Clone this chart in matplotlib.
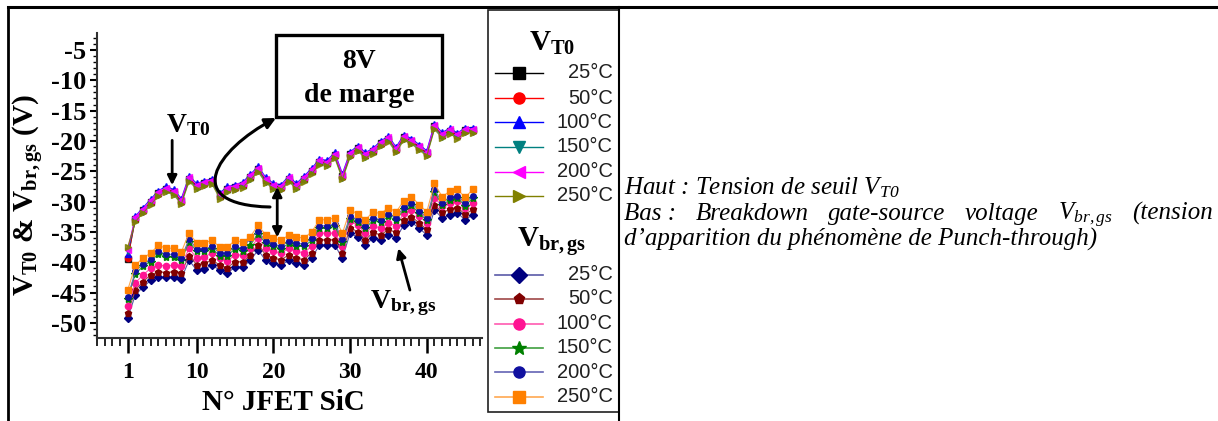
import numpy as np
import matplotlib
matplotlib.use('Agg')
import matplotlib.pyplot as plt
from matplotlib.lines import Line2D
from matplotlib.patches import Rectangle, FancyArrowPatch
from matplotlib.path import Path

plt.rcParams['font.family'] = ['Liberation Serif', 'DejaVu Serif']
plt.rcParams['mathtext.fontset'] = 'custom'
plt.rcParams['mathtext.rm'] = 'Liberation Serif:italic'
plt.rcParams['mathtext.bf'] = 'Liberation Serif:bold'
plt.rcParams['mathtext.it'] = 'Liberation Serif:italic'

# ---- data ----
jfet = np.arange(1, 47)
temps = ['25°C', '50°C', '100°C', '150°C', '200°C', '250°C']

# threshold voltage V_T0
vt0_25 = [-39.5,-32.8,-31.4,-30.0,-28.6,-27.9,-28.4,-29.9,-26.2,-27.4,-27.0,-26.6,-29.0,-27.9,-27.6,-27.2,-25.9,-24.6,-26.4,-27.4,-27.6,-26.2,-27.4,-26.2,-24.9,-23.4,-23.6,-22.3,-25.8,-22.2,-21.2,-22.3,-21.6,-20.4,-19.6,-21.4,-19.4,-20.0,-21.0,-22.0,-17.6,-19.0,-18.3,-19.1,-18.2,-18.2]
vt0_50 = [-39.3,-32.9,-31.5,-30.1,-28.7,-28.0,-28.5,-30.0,-26.3,-27.5,-27.1,-26.7,-29.1,-28.0,-27.7,-27.3,-26.0,-24.7,-26.5,-27.5,-27.7,-26.3,-27.5,-26.3,-25.0,-23.5,-23.7,-22.4,-25.9,-22.3,-21.3,-22.4,-21.7,-20.5,-19.7,-21.5,-19.5,-20.1,-21.1,-22.1,-17.7,-19.1,-18.4,-19.2,-18.3,-18.3]
vt0_100 = [-38.6,-32.4,-31.0,-29.6,-28.2,-27.5,-28.0,-29.5,-25.8,-27.0,-26.6,-26.2,-28.6,-27.5,-27.2,-26.8,-25.5,-24.2,-26.0,-27.0,-27.2,-25.8,-27.0,-25.8,-24.5,-23.0,-23.2,-21.9,-25.4,-21.8,-20.8,-21.9,-21.2,-20.0,-19.2,-21.0,-19.0,-19.6,-20.6,-21.6,-17.2,-18.6,-17.9,-18.7,-17.8,-17.8]
vt0_150 = [-38.2,-33.1,-31.7,-30.3,-28.9,-28.2,-28.7,-30.2,-26.5,-27.7,-27.3,-26.9,-29.3,-28.2,-27.9,-27.5,-26.2,-24.9,-26.7,-27.7,-27.9,-26.5,-27.7,-26.5,-25.2,-23.7,-23.9,-22.6,-26.1,-22.5,-21.5,-22.6,-21.9,-20.7,-19.9,-21.7,-19.7,-20.3,-21.3,-22.3,-17.9,-19.3,-18.6,-19.4,-18.5,-18.5]
vt0_200 = [-38.0,-32.5,-31.2,-29.8,-28.4,-27.7,-28.2,-29.7,-26.0,-27.2,-26.8,-26.4,-28.8,-27.7,-27.4,-27.0,-25.7,-24.4,-26.2,-27.2,-27.4,-26.0,-27.2,-26.0,-24.7,-23.2,-23.4,-22.1,-25.6,-22.0,-21.0,-22.1,-21.4,-20.2,-19.4,-21.2,-19.2,-19.8,-20.8,-21.8,-17.4,-18.8,-18.1,-18.9,-18.0,-18.0]
vt0_250 = [-37.5,-33.3,-31.9,-30.5,-29.1,-28.4,-28.9,-30.4,-26.7,-27.9,-27.5,-27.1,-29.5,-28.4,-28.1,-27.7,-26.4,-25.1,-26.9,-27.9,-28.1,-26.7,-27.9,-26.7,-25.4,-23.9,-24.1,-22.8,-26.3,-22.7,-21.7,-22.8,-22.1,-20.9,-20.1,-21.9,-19.9,-20.5,-21.5,-22.5,-18.1,-19.5,-18.8,-19.6,-18.7,-18.7]

# gate-source breakdown voltage V_br,gs
vbr_25 = [-49.2,-45.4,-44.1,-43.0,-42.5,-42.5,-42.5,-42.7,-39.7,-41.3,-41.1,-40.5,-41.3,-41.8,-40.8,-40.8,-39.7,-38.0,-39.7,-40.2,-40.5,-39.7,-40.2,-40.5,-39.3,-37.2,-37.2,-37.2,-39.3,-35.2,-35.9,-37.2,-36.0,-36.4,-35.5,-36.0,-33.9,-33.4,-34.4,-35.5,-31.4,-32.7,-32.2,-31.9,-33.0,-32.2]
vbr_50 = [-48.4,-44.6,-43.2,-42.1,-41.6,-41.7,-41.6,-41.8,-38.9,-40.4,-40.2,-39.6,-40.5,-40.9,-39.9,-40.0,-38.8,-37.1,-38.8,-39.3,-39.6,-38.8,-39.3,-39.6,-38.4,-36.3,-36.4,-36.3,-38.4,-34.3,-35.0,-36.3,-35.1,-35.5,-34.6,-35.1,-33.0,-32.5,-33.5,-34.6,-30.5,-31.8,-31.3,-31.0,-32.1,-31.3]
vbr_100 = [-47.2,-43.4,-42.1,-41.0,-40.5,-40.6,-40.5,-40.7,-37.7,-39.3,-39.1,-38.5,-39.3,-39.8,-38.8,-38.8,-37.7,-36.0,-37.7,-38.2,-38.5,-37.7,-38.2,-38.5,-37.3,-35.2,-35.2,-35.2,-37.3,-33.2,-33.9,-35.2,-34.0,-34.4,-33.5,-34.0,-31.9,-31.4,-32.4,-33.5,-29.4,-30.7,-30.2,-29.9,-31.0,-30.2]
vbr_150 = [-46.0,-41.9,-40.7,-39.9,-38.6,-39.1,-39.1,-39.7,-36.6,-38.2,-38.2,-37.8,-38.9,-38.9,-37.8,-38.1,-37.2,-35.3,-36.9,-37.4,-37.8,-36.9,-37.3,-37.4,-36.4,-34.4,-34.4,-34.1,-36.6,-32.8,-33.4,-34.4,-33.1,-33.4,-32.4,-33.1,-31.3,-30.6,-31.9,-33.1,-28.4,-30.6,-29.7,-29.4,-30.7,-29.4]
vbr_200 = [-45.8,-41.5,-40.3,-39.5,-38.2,-38.7,-38.7,-39.3,-36.2,-37.8,-37.8,-37.4,-38.5,-38.5,-37.4,-37.7,-36.0,-34.9,-36.5,-37.0,-37.4,-36.5,-36.9,-37.0,-36.0,-34.0,-34.0,-33.7,-36.2,-32.4,-33.0,-34.0,-32.7,-33.0,-32.0,-32.7,-30.9,-30.2,-31.5,-32.7,-28.0,-30.2,-29.3,-29.0,-30.3,-29.0]
vbr_250 = [-44.6,-40.5,-39.3,-38.5,-37.2,-37.7,-37.7,-38.3,-35.2,-36.8,-36.8,-36.4,-37.5,-37.5,-36.4,-36.7,-35.8,-33.9,-35.5,-36.0,-36.4,-35.5,-35.9,-36.0,-35.0,-33.0,-33.0,-32.7,-35.2,-31.4,-32.0,-33.0,-31.7,-32.0,-31.0,-31.7,-29.9,-29.2,-30.5,-31.7,-27.0,-29.2,-28.3,-28.0,-29.3,-28.0]

y_ticks = [-5, -10, -15, -20, -25, -30, -35, -40, -45, -50]
y_ticklabels = ['-5', '-10', '-15', '-20', '-25', '-30', '-35', '-40', '-45', '-50']
x_ticks = [1, 10, 20, 30, 40]

vt0_series = [vt0_25, vt0_50, vt0_100, vt0_150, vt0_200, vt0_250]
vbr_series = [vbr_25, vbr_50, vbr_100, vbr_150, vbr_200, vbr_250]

# styles
vt0_colors = ['black', '#ff0000', '#0000ff', '#008080', '#ff00ff', '#808000']
vt0_markers = ['s', 'o', '^', 'v', '<', '>']
vbr_colors = ['#000080', '#800000', '#ff1493', '#008000', '#1010a0', '#ff8000']
vbr_lines = ['#5a5aa8', '#a04848', '#ff5ab0', '#40a040', '#6464b4', '#ffa850']
vbr_markers = ['D', 'p', 'o', '*', 'o', 's']
vbr_ms = [4.5, 5, 4.5, 6, 4, 4.5]

W, H = 1218, 421
fig = plt.figure(figsize=(W / 100, H / 100), dpi=100)


def fx(px):
    return px / W


def fy(py):
    return 1 - py / H


ax = fig.add_axes([fx(97), fy(338), (482 - 97) / W, (338 - 33) / H])

for vals, c, lc, m, ms in zip(vbr_series, vbr_colors, vbr_lines, vbr_markers, vbr_ms):
    ax.plot(jfet, vals, color=lc, lw=0.8, marker=m, ms=ms, mfc=c, mec=c)
for vals, c, m in zip(vt0_series, vt0_colors, vt0_markers):
    ax.plot(jfet, vals, color=c, lw=0.8, marker=m, ms=4.5, mfc=c, mec=c, alpha=0.85)

ax.set_xlim(-3.0, 47.2)
ax.set_ylim(-52.5, -2.2)
ax.set_yticks(y_ticks)
ax.set_yticklabels(y_ticklabels)
ax.set_xticks(x_ticks)
ax.set_xticks(np.arange(-3, 48, 1), minor=True)
ax.set_yticks(np.arange(-52, -2, 1), minor=True)
for s in ['top', 'right']:
    ax.spines[s].set_visible(False)
for s in ['left', 'bottom']:
    ax.spines[s].set_linewidth(1.5)
    ax.spines[s].set_color('#303030')
ax.tick_params(axis='y', which='major', length=5, width=1.5, pad=3,
               labelsize=19)
ax.tick_params(axis='y', which='minor', length=3, width=1.0)
ax.tick_params(axis='x', which='major', length=11, width=1.8, pad=6,
               labelsize=17)
ax.tick_params(axis='x', which='minor', length=6, width=1.2)
for lab in ax.get_xticklabels() + ax.get_yticklabels():
    lab.set_fontweight('bold')

# annotations inside the plot
bold = dict(fontfamily='Liberation Serif', fontweight='bold', color='black')
ax.text(6.0, -18.5, r'V$_{\mathbf{T0}}$', fontsize=20, ha='left', va='baseline', **bold)
ax.annotate('', xy=(6.8, -27.3), xytext=(6.8, -19.9),
            arrowprops=dict(arrowstyle='-|>', lw=2, color='black',
                            mutation_scale=14, shrinkA=0, shrinkB=0))
ax.text(32.6, -47.6, r'V$_{\mathbf{br,gs}}$', fontsize=20, ha='left', va='baseline', **bold)
ax.annotate('', xy=(36.3, -37.7), xytext=(37.8, -44.6),
            arrowprops=dict(arrowstyle='-|>', lw=2, color='black',
                            mutation_scale=14, shrinkA=0, shrinkB=0))
ax.annotate('', xy=(20.5, -27.6), xytext=(20.5, -35.9),
            arrowprops=dict(arrowstyle='<|-|>', lw=2, color='black',
                            mutation_scale=14, shrinkA=0, shrinkB=0))

# "8V de marge" box and curved arrow (figure pixel layout)
fig.patches.append(Rectangle((fx(276), fy(117)), (442 - 276) / W, (117 - 35) / H,
                             transform=fig.transFigure, fill=True, fc='white',
                             ec='black', lw=2.4, zorder=5))
fig.text(fx(359), fy(62), '8V', fontsize=20, ha='center', va='center', zorder=6, **bold)
fig.text(fx(359), fy(95), 'de marge', fontsize=20, ha='center', va='center', zorder=6, **bold)
curve = Path([(fx(270), fy(207)), (fx(180), fy(205)), (fx(215), fy(150)), (fx(276), fy(118))],
             [Path.MOVETO, Path.CURVE4, Path.CURVE4, Path.CURVE4])
fig.patches.append(FancyArrowPatch(path=curve, arrowstyle='-|>', mutation_scale=16,
                                   lw=2.2, color='black', transform=fig.transFigure,
                                   zorder=6))

# axis titles
fig.text(fx(28), fy(195), r'V$_{\mathbf{T0}}$ & V$_{\mathbf{br,gs}}$ (V)', fontsize=21,
         rotation=90, ha='center', va='center', **bold)
fig.text(fx(283), fy(402), 'N° JFET SiC', fontsize=21, ha='center', va='center', **bold)

# table borders
for xs, ys, lw in [([8, 1218], [7, 7], 2.2), ([8, 8], [7, 421], 2.0), ([619, 619], [7, 421], 1.5)]:
    fig.add_artist(Line2D([fx(v) for v in xs], [fy(v) for v in ys], color='black', lw=lw,
                          transform=fig.transFigure))

# legend (drawn by hand)
fig.patches.append(Rectangle((fx(488), fy(412)), (619 - 488) / W, (412 - 10) / H,
                             transform=fig.transFigure, fill=False, ec='#202020', lw=1.2))
fig.text(fx(552), fy(43), r'V$_{\mathbf{T0}}$', fontsize=21, ha='center', va='center', **bold)
fig.text(fx(552), fy(242), r'V$_{\mathbf{br,gs}}$', fontsize=21, ha='center', va='center', **bold)
vt0_rows = [73, 98, 122, 147, 171.5, 195.5]
vbr_rows = [275, 299, 323.5, 347.5, 372, 396.5]
for row, c, m, t in zip(vt0_rows, vt0_colors, vt0_markers, temps):
    fig.add_artist(Line2D([fx(495), fx(543)], [fy(row), fy(row)], color=c, lw=1.0,
                          transform=fig.transFigure))
    fig.add_artist(Line2D([fx(519)], [fy(row)], color=c, marker=m, ms=8,
                          transform=fig.transFigure))
    fig.text(fx(613), fy(row), t, fontsize=14.5, fontfamily='Liberation Sans',
             ha='right', va='center', color='#202020')
for row, c, lc, m, t in zip(vbr_rows, vbr_colors, vbr_lines, vbr_markers, temps):
    fig.add_artist(Line2D([fx(495), fx(543)], [fy(row), fy(row)], color=lc, lw=1.2,
                          transform=fig.transFigure))
    fig.add_artist(Line2D([fx(519)], [fy(row)], color=c, marker=m,
                          ms=10 if m == '*' else 8, transform=fig.transFigure))
    fig.text(fx(613), fy(row), t, fontsize=14.5, fontfamily='Liberation Sans',
             ha='right', va='center', color='#202020')

# caption on the right (second line justified)
cap = dict(fontsize=18, fontstyle='italic', fontfamily='Liberation Serif', va='baseline')
fig.text(fx(624), fy(194), r'Haut : Tension de seuil V$_{\mathit{T0}}$', **cap)
line2 = ['Bas :', 'Breakdown', 'gate-source', 'voltage', r'V$_{\mathit{br,gs}}$', '(tension']
words = [fig.text(fx(624), fy(220), w, **cap) for w in line2]
fig.text(fx(624), fy(246), 'd\u2019apparition du phénomène de Punch-through)', **cap)

fig.canvas.draw()
rend = fig.canvas.get_renderer()
widths = [t.get_window_extent(rend).width for t in words]
gap = (1213 - 624 - sum(widths)) / (len(words) - 1)
xpos = 624
for t, w in zip(words, widths):
    t.set_x(fx(xpos))
    xpos += w + gap

fig.savefig('out.png', dpi=100)
